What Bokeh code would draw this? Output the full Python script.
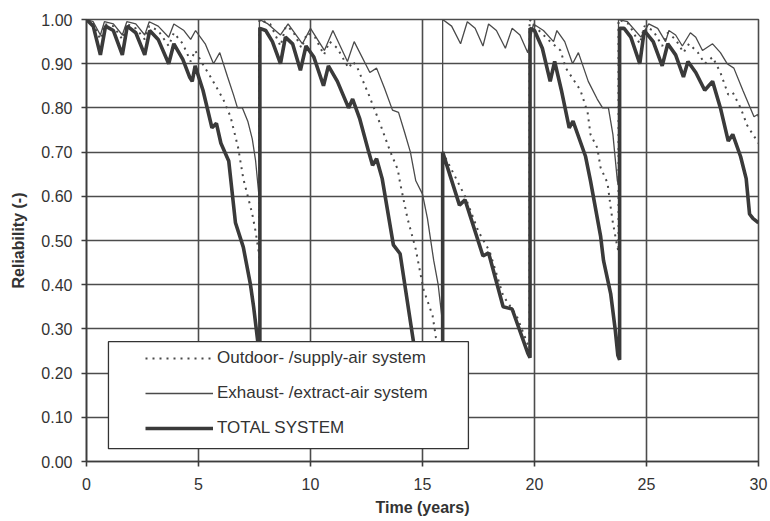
from bokeh.plotting import figure
from bokeh.models import (FixedTicker, PrintfTickFormatter, Legend, LegendItem,
                          BoxAnnotation, Range1d)
from bokeh.embed import file_html
from bokeh.resources import INLINE

# ---------------- data ----------------
x_ticks = [0, 5, 10, 15, 20, 25, 30]
y_ticks = [0.0, 0.1, 0.2, 0.3, 0.4, 0.5, 0.6, 0.7, 0.8, 0.9, 1.0]

legend_labels = ["Outdoor- /supply-air system",
                 "Exhaust- /extract-air system",
                 "TOTAL SYSTEM"]

# Outdoor- / supply-air system (dotted)
supply_t = [0.00, 0.30, 0.62, 0.80, 1.20, 1.60, 1.80, 2.20, 2.60, 2.80, 3.20, 3.67, 3.90,
            4.30, 4.65, 4.85, 5.18, 5.54, 6.10, 6.43, 6.77, 7.00, 7.40, 7.55, 7.70, 7.72,
            7.72, 8.20, 8.66, 8.90, 9.20, 9.60, 9.85, 10.20, 10.60, 10.85, 11.20, 11.70,
            11.90, 12.10, 12.60, 13.10, 13.57, 13.90, 14.00, 14.33, 14.70, 15.04, 15.45,
            15.60, 15.88, 15.90,
            15.90, 16.30, 16.90, 17.50, 18.00, 18.60, 19.20, 19.70, 19.78,
            19.78, 20.10, 20.70, 21.16, 21.40, 22.05, 22.37, 22.50, 22.80, 22.95, 23.26,
            23.40, 23.50, 23.70, 23.75,
            23.75, 24.20, 24.70, 24.90, 25.30, 25.70, 25.95, 26.30, 26.65, 26.90, 27.30,
            27.60, 27.95, 28.30, 28.65, 28.85, 29.20, 29.50, 29.75, 30.00]
supply_r = [1.000, 0.990, 0.955, 0.990, 0.985, 0.955, 0.990, 0.980, 0.955, 0.985, 0.975, 0.940, 0.970,
            0.945, 0.905, 0.930, 0.900, 0.870, 0.820, 0.780, 0.710, 0.640, 0.560, 0.520, 0.470, 0.460,
            1.000, 0.990, 0.940, 0.985, 0.975, 0.935, 0.970, 0.960, 0.920, 0.950, 0.935, 0.890,
            0.905, 0.890, 0.830, 0.765, 0.700, 0.660, 0.630, 0.550, 0.480, 0.390, 0.330,
            0.280, 0.220, 0.215,
            0.700, 0.660, 0.600, 0.520, 0.475, 0.375, 0.330, 0.265, 0.255,
            1.000, 0.980, 0.950, 0.930, 0.890, 0.840, 0.790, 0.740, 0.710, 0.665, 0.630,
            0.575, 0.540, 0.485, 0.475,
            1.000, 0.990, 0.945, 0.985, 0.975, 0.940, 0.970, 0.955, 0.925, 0.945, 0.925,
            0.900, 0.915, 0.880, 0.830, 0.835, 0.800, 0.760, 0.740, 0.720]

# Exhaust- / extract-air system (thin solid)
exhaust_t = [0.00, 0.30, 0.62, 0.80, 1.20, 1.60, 1.80, 2.20, 2.60, 2.80, 3.20, 3.67, 3.90,
             4.35, 4.65, 4.87, 5.30, 5.67, 5.95, 6.30, 6.56, 6.74, 6.96, 7.20, 7.40, 7.55,
             7.70, 7.72,
             7.72, 8.10, 8.66, 9.00, 9.64, 10.00, 10.62, 11.00, 11.65, 11.95, 12.65, 12.95,
             13.30, 13.66, 13.93, 14.20, 14.46, 14.70, 15.00, 15.22, 15.50, 15.70, 15.88, 15.90,
             15.90, 16.30, 16.70, 17.00, 17.35, 17.70, 17.95, 18.30, 18.70, 19.00, 19.35,
             19.70, 19.95, 20.40, 20.85, 21.00, 21.35, 21.70, 21.96, 22.40, 22.80, 23.04,
             23.30, 23.50, 23.70, 23.75,
             23.75, 24.15, 24.75, 25.10, 25.50, 25.85, 26.00, 26.30, 26.60, 26.96, 27.20,
             27.50, 27.95, 28.30, 28.60, 28.90, 29.30, 29.80, 29.96, 30.00]
exhaust_r = [1.000, 0.995, 0.965, 0.995, 0.990, 0.965, 0.995, 0.990, 0.965, 0.995, 0.985, 0.960, 0.990,
             0.975, 0.955, 0.975, 0.945, 0.900, 0.925, 0.870, 0.830, 0.800, 0.800, 0.770, 0.730, 0.680,
             0.600, 0.590,
             1.000, 0.990, 0.965, 0.990, 0.945, 0.980, 0.930, 0.975, 0.905, 0.950, 0.880, 0.890,
             0.845, 0.795, 0.790, 0.745, 0.700, 0.635, 0.605, 0.550, 0.455, 0.400, 0.320, 0.310,
             1.000, 0.985, 0.945, 0.995, 0.980, 0.940, 0.990, 0.975, 0.935, 0.980, 0.965,
             0.925, 0.990, 0.975, 0.950, 0.975, 0.950, 0.900, 0.925, 0.860, 0.820, 0.800,
             0.800, 0.740, 0.635, 0.625,
             1.000, 0.995, 0.960, 0.990, 0.980, 0.950, 0.975, 0.965, 0.940, 0.970, 0.960,
             0.930, 0.945, 0.925, 0.900, 0.890, 0.840, 0.780, 0.785, 0.780]

# TOTAL SYSTEM (thick solid)
total_t = [0.00, 0.30, 0.62, 0.85, 1.20, 1.60, 1.82, 2.20, 2.60, 2.82, 3.20, 3.67, 3.90,
           4.30, 4.60, 4.72, 4.85, 5.20, 5.60, 5.80, 6.00, 6.35, 6.50, 6.65, 7.00, 7.32,
           7.46, 7.65, 7.74, 7.74,
           8.00, 8.30, 8.66, 8.88, 9.20, 9.55, 9.80, 10.15, 10.58, 10.80, 11.20, 11.70,
           11.88, 12.20, 12.60, 12.77, 12.95, 13.20, 13.70, 14.00, 14.60, 15.00, 15.50,
           15.90, 15.90,
           16.65, 16.90, 17.70, 17.95, 18.60, 19.00, 19.70, 19.80, 19.80,
           20.00, 20.35, 20.70, 20.90, 21.20, 21.55, 21.72, 22.28, 22.50, 22.95, 23.08,
           23.40, 23.60, 23.72, 23.80, 23.80,
           24.00, 24.30, 24.70, 24.90, 25.30, 25.70, 25.95, 26.30, 26.65, 26.85, 27.20,
           27.60, 27.95, 28.30, 28.65, 28.85, 29.20, 29.45, 29.60, 29.75, 30.00]
total_r = [1.000, 0.985, 0.920, 0.985, 0.975, 0.920, 0.985, 0.970, 0.920, 0.975, 0.955, 0.900, 0.945,
           0.910, 0.870, 0.860, 0.895, 0.840, 0.755, 0.765, 0.720, 0.680, 0.610, 0.540, 0.485, 0.400,
           0.350, 0.270, 0.200, 0.980,
           0.975, 0.950, 0.900, 0.960, 0.945, 0.885, 0.940, 0.915, 0.850, 0.895, 0.860, 0.800,
           0.820, 0.775, 0.700, 0.670, 0.685, 0.640, 0.490, 0.470, 0.270, 0.220, 0.150,
           0.080, 0.700,
           0.580, 0.592, 0.465, 0.472, 0.350, 0.345, 0.245, 0.235, 0.980,
           0.975, 0.935, 0.860, 0.905, 0.840, 0.755, 0.770, 0.690, 0.635, 0.510, 0.455,
           0.380, 0.300, 0.240, 0.230, 0.980,
           0.980, 0.960, 0.900, 0.975, 0.950, 0.895, 0.945, 0.920, 0.870, 0.905, 0.880,
           0.840, 0.860, 0.800, 0.725, 0.740, 0.690, 0.640, 0.560, 0.550, 0.540]

# legend frame (in axis units)
LEG_LEFT, LEG_RIGHT, LEG_BOTTOM, LEG_TOP = 0.98, 17.05, 0.029, 0.271

# ---------------- figure ----------------
FONT = "Liberation Sans"
GRID = "#4c4c4c"
INK = "#3c3c3c"

p = figure(width=770, height=521, x_range=Range1d(0, 30), y_range=Range1d(0, 1),
           output_backend="svg", toolbar_location=None,
           min_border_left=86, min_border_top=19, min_border_right=12, min_border_bottom=60)
p.background_fill_color = "white"
p.border_fill_color = "white"
p.outline_line_color = GRID
p.outline_line_width = 1.6

p.xgrid.ticker = FixedTicker(ticks=x_ticks)
p.ygrid.ticker = FixedTicker(ticks=y_ticks)
for g in (p.xgrid, p.ygrid):
    g.grid_line_color = GRID
    g.grid_line_width = 1.6

p.xaxis.ticker = FixedTicker(ticks=x_ticks)
p.yaxis.ticker = FixedTicker(ticks=y_ticks)
p.yaxis.formatter = PrintfTickFormatter(format="%.2f")
p.xaxis.axis_label = "Time (years)"
p.yaxis.axis_label = "Reliability (-)"
for ax in (p.xaxis, p.yaxis):
    ax.axis_line_color = INK
    ax.axis_line_width = 1.6
    ax.major_tick_line_color = INK
    ax.major_tick_line_width = 1.6
    ax.major_tick_out = 5
    ax.major_tick_in = 0
    ax.minor_tick_line_color = None
    ax.major_label_text_font = FONT
    ax.major_label_text_font_size = "16px"
    ax.major_label_text_color = "#333333"
    ax.axis_label_text_font = FONT
    ax.axis_label_text_font_size = "16px"
    ax.axis_label_text_font_style = "bold"
    ax.axis_label_text_color = "#333333"
p.xaxis.major_label_standoff = 11
p.xaxis.axis_label_standoff = 6
p.yaxis.major_label_standoff = 9
p.yaxis.axis_label_standoff = 11

r_sup = p.line(supply_t, supply_r, line_color="#4a4a4a", line_width=2, line_dash="2 5")
r_exh = p.line(exhaust_t, exhaust_r, line_color="#4a4a4a", line_width=1.3)
r_tot = p.line(total_t, total_r, line_color="#3a3a3a", line_width=3.6)

box = BoxAnnotation(left=LEG_LEFT, right=LEG_RIGHT, bottom=LEG_BOTTOM, top=LEG_TOP,
                    fill_color="white", fill_alpha=1.0, line_color="#333333",
                    line_width=1.3, line_alpha=1.0)
p.add_layout(box)

legend = Legend(items=[LegendItem(label=legend_labels[0], renderers=[r_sup]),
                       LegendItem(label=legend_labels[1], renderers=[r_exh]),
                       LegendItem(label=legend_labels[2], renderers=[r_tot])],
                location=(59, 23), padding=0, margin=0, spacing=15,
                glyph_width=68, glyph_height=20, label_height=20, label_standoff=4,
                label_text_font=FONT, label_text_font_size="17px",
                label_text_color="#333333",
                border_line_alpha=0, background_fill_alpha=0)
p.add_layout(legend, "center")

open("out.html", "w").write(file_html(p, INLINE))
